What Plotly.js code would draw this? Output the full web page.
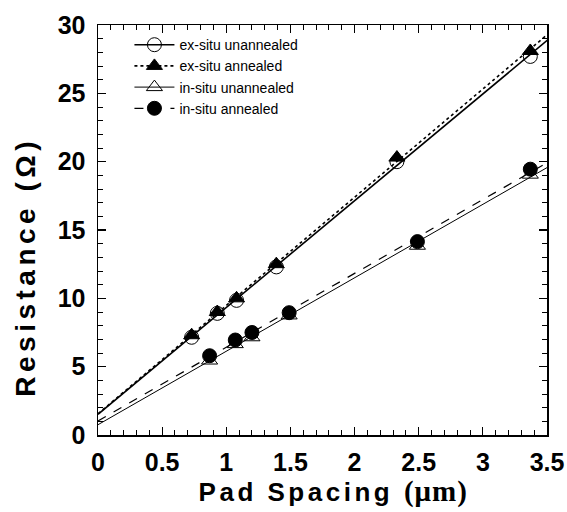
<!DOCTYPE html>
<html>
<head>
<meta charset="utf-8">
<script src="https://cdn.plot.ly/plotly-3.0.1.min.js"></script>
<style>html,body{margin:0;padding:0;background:#fff;}</style>
</head>
<body>
<div id="chart" style="width:567px;height:512px;"></div>
<script>
// Data
const seriesNames = ["ex-situ unannealed", "ex-situ annealed", "in-situ unannealed", "in-situ annealed"];
const exUnX = [0.73, 0.93, 1.08, 1.39, 2.33, 3.37];
const exUnY = [7.15, 8.9, 9.85, 12.3, 20.0, 27.7];
const exAnX = [0.73, 0.93, 1.08, 1.39, 2.33, 3.37];
const exAnY = [7.3, 9.0, 10.0, 12.5, 20.3, 28.1];
const inUnX = [0.87, 1.07, 1.2, 1.49, 2.49, 3.37];
const inUnY = [5.45, 6.65, 7.15, 8.75, 13.85, 19.05];
const inAnX = [0.87, 1.07, 1.2, 1.49, 2.49, 3.37];
const inAnY = [5.8, 6.95, 7.5, 8.95, 14.15, 19.45];
const fitRange = [0, 3.6];

function linfit(x, y) {
  const n = x.length;
  let sx = 0, sy = 0, sxx = 0, sxy = 0;
  for (let i = 0; i < n; i++) { sx += x[i]; sy += y[i]; sxx += x[i]*x[i]; sxy += x[i]*y[i]; }
  const m = (n*sxy - sx*sy) / (n*sxx - sx*sx);
  const b = (sy - m*sx) / n;
  return {x: fitRange.slice(), y: fitRange.map(v => m*v + b)};
}

const styles = [
  {dash: 'solid', lw: 1.6, sym: 'circle-open', mc: 'black'},
  {dash: 'dot', lw: 1.6, sym: 'triangle-up', mc: 'black'},
  {dash: 'solid', lw: 1.0, sym: 'triangle-up-open', mc: 'black'},
  {dash: 'dash', lw: 1.2, sym: 'circle', mc: 'black'}
];
const xs = [exUnX, exAnX, inUnX, inAnX];
const ys = [exUnY, exAnY, inUnY, inAnY];

const traces = [];
for (let i = 0; i < 4; i++) {
  const f = linfit(xs[i], ys[i]);
  traces.push({x: f.x, y: f.y, mode: 'lines', showlegend: false, hoverinfo: 'skip',
    line: {color: 'black', width: styles[i].lw, dash: styles[i].dash}});
}
const order = [0, 2, 3, 1];
for (const i of order) {
  traces.push({x: xs[i], y: ys[i], mode: 'markers', showlegend: false,
    marker: {symbol: styles[i].sym, size: 14, color: styles[i].mc, line: {color: 'black', width: 1}}});
}
for (let i = 0; i < 4; i++) {
  traces.push({x: [null], y: [null], mode: 'lines+markers', name: seriesNames[i],
    line: {color: 'black', width: styles[i].lw, dash: styles[i].dash},
    marker: {symbol: styles[i].sym, size: 14, color: styles[i].mc, line: {color: 'black', width: 1}}});
}

const FONT = 'Liberation Sans, Arial, sans-serif';
const SERIF = 'Liberation Serif, Times New Roman, serif';
const axisCommon = {
  showgrid: false, zeroline: false, showline: true, linecolor: 'black', linewidth: 1.5,
  mirror: 'ticks', ticks: 'inside', ticklen: 8, tickwidth: 1.2, tickcolor: 'black',
  tickfont: {family: FONT, size: 25, color: 'black', weight: 'bold'}
};

const layout = {
  width: 567, height: 512,
  margin: {l: 98, r: 20, t: 25, b: 77},
  paper_bgcolor: 'white', plot_bgcolor: 'white',
  showlegend: true,
  legend: {x: 0.07, y: 0.99, xanchor: 'left', yanchor: 'top', bgcolor: 'rgba(0,0,0,0)',
    font: {family: FONT, size: 14, color: 'black'},
    tracegroupgap: 0, itemwidth: 40},
  xaxis: Object.assign({}, axisCommon, {
    range: [0, 3.5], dtick: 0.5, tick0: 0, ticklabelstandoff: 4,
    minor: {dtick: 0.1, ticks: 'inside', ticklen: 5, tickwidth: 1, tickcolor: 'black'},
    title: {text: '<span style="letter-spacing:3.5px">\u00a0\u00a0Pad Spacing </span><span style="font-family:' + SERIF + ';font-size:29px;letter-spacing:1px">(μm)</span>', standoff: 8,
      font: {family: FONT, size: 26, color: 'black', weight: 'bold'}}
  }),
  yaxis: Object.assign({}, axisCommon, {
    range: [0, 30], dtick: 5, tick0: 0, ticklabelstandoff: 6,
    minor: {dtick: 1, ticks: 'inside', ticklen: 5, tickwidth: 1, tickcolor: 'black'},
    title: {text: '<span style="letter-spacing:4.5px">Resistance (Ω)\u00a0\u00a0\u00a0\u00a0\u00a0\u00a0</span>', standoff: 14,
      font: {family: FONT, size: 28, color: 'black', weight: 'bold'}}
  })
};

Plotly.newPlot('chart', traces, layout, {displayModeBar: false, staticPlot: true});
</script>
</body>
</html>
